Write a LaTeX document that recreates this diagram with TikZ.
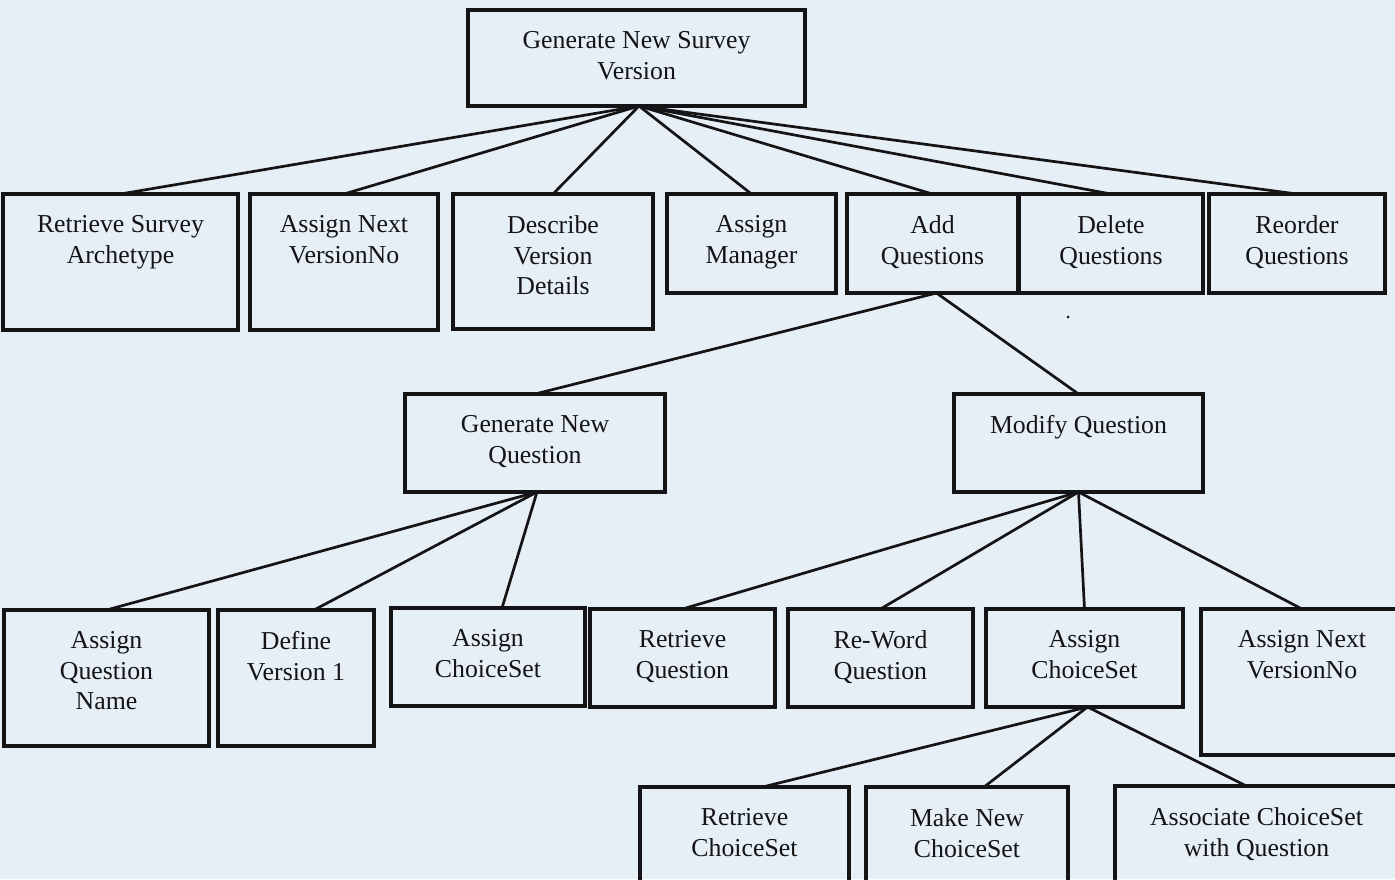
\documentclass[tikz,border=0pt]{standalone}
\usepackage{fontspec}
\setmainfont{Liberation Serif}
\definecolor{paper}{RGB}{230,239,246}
\definecolor{ink}{RGB}{20,20,22}
% a task box: name, centre x, centre y, width, height, caption
\newcommand\taskbox[6]{%
  \node[box, minimum width=#4pt, minimum height=#5pt] (#1) at (#2,#3) {};
  \node[lbl] (#1-text) at (#1.north) {#6};}
\begin{document}
\begin{tikzpicture}[x=1pt,y=-1pt,
  box/.style={draw=ink, line width=3.6pt, inner sep=0pt, outer sep=0pt},
  lbl/.style={anchor=north, align=center, inner sep=0pt, text=ink,
    font=\fontsize{25.8}{30.5}\selectfont, yshift=-21.5pt},
  link/.style={draw=ink, line width=2.7pt, line cap=round}]
\fill[paper] (0,0) rectangle (1395,879);
\useasboundingbox (0,0) rectangle (1395,879);

% root
\taskbox{root}{636.5}{58}{337}{96}{Generate New Survey\\Version}

% first level
\taskbox{rsa}{120.5}{262}{235}{136}{Retrieve Survey\\Archetype}
\taskbox{anv}{344}{262}{188}{136}{Assign Next\\VersionNo}
\taskbox{dvd}{553}{261.5}{200}{135}{Describe\\Version\\Details}
\taskbox{am}{751.5}{243.5}{169}{99}{Assign\\Manager}
\taskbox{aq}{932.5}{243.5}{171}{99}{Add\\Questions}
\taskbox{dq}{1111}{243.5}{184}{99}{Delete\\Questions}
\taskbox{rq}{1297}{243.5}{176}{99}{Reorder\\Questions}

% second level
\taskbox{gnq}{535}{443}{260}{98}{Generate New\\Question}
\taskbox{mq}{1078.5}{443}{249}{98}{Modify Question}

% third level
\taskbox{aqn}{106.5}{678}{205}{136}{Assign\\Question\\Name}
\taskbox{dv}{296}{678}{156}{136}{Define\\Version 1}
\taskbox{acsa}{488}{657}{194}{98}{Assign\\ChoiceSet}
\taskbox{rtq}{682.5}{658}{185}{98}{Retrieve\\Question}
\taskbox{rwq}{880.5}{658}{185}{98}{Re-Word\\Question}
\taskbox{acsb}{1084.5}{658}{197}{98}{Assign\\ChoiceSet}
\taskbox{anvb}{1302}{682}{202}{146}{Assign Next\\VersionNo}

% fourth level
\taskbox{rcs}{744.5}{847}{209}{120}{Retrieve\\ChoiceSet}
\taskbox{mcs}{967}{847}{202}{120}{Make New\\ChoiceSet}
\taskbox{acq}{1256.5}{846}{283}{120}{Associate ChoiceSet\\with Question}

% connectors
\foreach \c in {rsa,anv,dvd,am,aq,dq,rq}
  \draw[link] ([xshift=2.5pt]root.south) -- (\c.north);
\foreach \c in {gnq,mq}
  \draw[link] ([xshift=4pt]aq.south) -- (\c.north);
\draw[link] ([xshift=2pt]gnq.south) -- (aqn.north);
\draw[link] ([xshift=2pt]gnq.south) -- ([xshift=18pt]dv.north);
\draw[link] ([xshift=2pt]gnq.south) -- ([xshift=14pt]acsa.north);
\foreach \c in {rtq,rwq,acsb,anvb}
  \draw[link] (mq.south) -- (\c.north);
\draw[link] ([xshift=3pt]acsb.south) -- ([xshift=18pt]rcs.north);
\draw[link] ([xshift=3pt]acsb.south) -- ([xshift=17pt]mcs.north);
\draw[link] ([xshift=3pt]acsb.south) -- ([xshift=-10pt]acq.north);

% stray speck below the delete box
\fill[ink] (1068,317) circle (1.5pt);
\end{tikzpicture}
\end{document}
